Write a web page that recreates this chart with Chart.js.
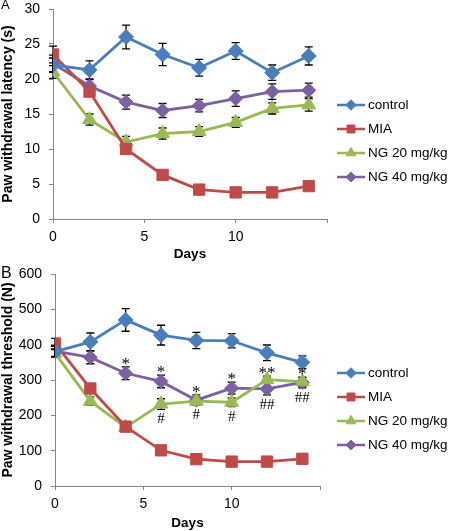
<!DOCTYPE html>
<html>
<head>
<meta charset="utf-8">
<script src="https://cdn.jsdelivr.net/npm/chart.js@4.4.1/dist/chart.umd.min.js"></script>
<style>
  body { margin: 0; background: #fff; width: 450px; height: 531px; position: relative; overflow: hidden; font-family: "Liberation Sans", Arial, sans-serif; }
  canvas { position: absolute; left: 0; }
  .letter { position: absolute; left: 1px; color: #000; }
</style>
</head>
<body>
<canvas id="chartA" width="450" height="262" style="top:0"></canvas>
<canvas id="chartB" width="450" height="269" style="top:262px"></canvas>
<div class="letter" style="top:-3px;font-size:13px">A</div>
<div class="letter" style="top:264px;font-size:16px">B</div>
<script>
// days of measurement
const days = [0, 2, 4, 6, 8, 10, 12, 14];
const seriesNames = ['control', 'MIA', 'NG 20 mg/kg', 'NG 40 mg/kg'];
const xTickLabels = ['0', '5', '10', ''];

// panel A: paw withdrawal latency (s)
const latControl = [22.0, 21.3, 26.0, 23.5, 21.6, 24.0, 20.9, 23.3];
const latMIA     = [23.5, 18.2, 10.0, 6.3, 4.2, 3.8, 3.8, 4.7];
const latNG20    = [21.0, 14.2, 11.0, 12.2, 12.5, 13.8, 15.8, 16.3];
const latNG40    = [22.2, 19.0, 16.7, 15.5, 16.2, 17.2, 18.2, 18.4];
const latErrControl = [1.0, 1.3, 1.7, 1.6, 1.2, 1.2, 1.1, 1.3];
const latErrMIA     = [1.2, 0.6, 0.5, 0.3, 0.3, 0.3, 0.3, 0.3];
const latErrNG20    = [0.9, 0.8, 0.8, 0.8, 0.7, 0.7, 0.8, 0.9];
const latErrNG40    = [1.2, 0.9, 1.0, 1.0, 0.9, 1.1, 1.1, 1.0];

// panel B: paw withdrawal threshold (N)
const thrControl = [380, 408, 470, 427, 412, 411, 377, 350];
const thrMIA     = [403, 276, 168, 101, 76, 69, 69, 77];
const thrNG20    = [376, 240, 166, 232, 240, 237, 301, 295];
const thrNG40    = [382, 364, 319, 296, 243, 277, 275, 293];
const thrErrControl = [15, 25, 32, 28, 23, 20, 22, 18];
const thrErrMIA     = [15, 10, 8, 5, 5, 5, 5, 5];
const thrErrNG20    = [10, 12, 10, 15, 12, 12, 10, 12];
const thrErrNG40    = [15, 18, 18, 18, 15, 17, 17, 15];

// significance marks in panel B
const starLabels = ['', '', '*', '*', '*', '*', '**', '*'];
const hashLabels = ['', '', '', '#', '#', '#', '##', '##'];

const colors = ['#4a7ebb', '#be4b48', '#98b954', '#7d60a0'];
const shapes = ['rectRot', 'rect', 'triangle', 'rectRot'];
const radii = [7.5, 8, 8, 7];
const FONT = '"Liberation Sans", Arial, sans-serif';
const SERIF = '"Liberation Serif", "Times New Roman", serif';

Chart.defaults.font.family = FONT;
Chart.defaults.color = '#000';

function makeDatasets(values, errors) {
  return values.map((v, i) => ({
    label: seriesNames[i],
    data: days.map((d, j) => ({ x: d, y: v[j] })),
    errors: errors[i],
    borderColor: colors[i],
    backgroundColor: colors[i],
    borderWidth: 2.8,
    pointStyle: shapes[i],
    pointRadius: radii[i],
    pointHoverRadius: radii[i],
    pointBorderWidth: 1,
    tension: 0
  }));
}

function drawMarker(ctx, style, x, y, r) {
  ctx.beginPath();
  if (style === 'rectRot') {
    ctx.moveTo(x, y - r); ctx.lineTo(x + r, y); ctx.lineTo(x, y + r); ctx.lineTo(x - r, y);
  } else if (style === 'rect') {
    const s = r * Math.SQRT1_2;
    ctx.rect(x - s, y - s, 2 * s, 2 * s);
  } else {
    const w = r * Math.sqrt(3) / 2;
    ctx.moveTo(x, y - r); ctx.lineTo(x + w, y + r / 2); ctx.lineTo(x - w, y + r / 2);
  }
  ctx.closePath();
  ctx.fill();
  ctx.stroke();
}

const errorBars = {
  id: 'errorBars',
  beforeDatasetsDraw(chart) {
    const { ctx, scales: { x, y } } = chart;
    ctx.save();
    ctx.strokeStyle = '#000';
    ctx.lineWidth = 1.3;
    chart.data.datasets.forEach(ds => {
      ds.data.forEach((p, j) => {
        const e = ds.errors[j];
        const px = x.getPixelForValue(p.x);
        const top = y.getPixelForValue(p.y + e);
        const bot = y.getPixelForValue(p.y - e);
        ctx.beginPath();
        ctx.moveTo(px, top); ctx.lineTo(px, bot);
        ctx.moveTo(px - 4, top); ctx.lineTo(px + 4, top);
        ctx.moveTo(px - 4, bot); ctx.lineTo(px + 4, bot);
        ctx.stroke();
      });
    });
    ctx.restore();
  }
};

const sideLegend = {
  id: 'sideLegend',
  afterDraw(chart, args, opts) {
    const ctx = chart.ctx;
    chart.data.datasets.forEach((ds, i) => {
      const y = opts.top + i * opts.gap;
      ctx.save();
      ctx.strokeStyle = ds.borderColor;
      ctx.lineWidth = 2.5;
      ctx.beginPath();
      ctx.moveTo(opts.left, y);
      ctx.lineTo(opts.left + 28, y);
      ctx.stroke();
      ctx.fillStyle = ds.backgroundColor;
      ctx.lineWidth = 1;
      drawMarker(ctx, ds.pointStyle, opts.left + 14, y, ds.pointRadius * 0.7);
      ctx.fillStyle = '#000';
      ctx.font = '13.5px ' + FONT;
      ctx.textBaseline = 'middle';
      ctx.fillText(ds.label, opts.left + 31, y);
      ctx.restore();
    });
  }
};

const sigMarks = {
  id: 'sigMarks',
  afterDatasetsDraw(chart, args, opts) {
    if (!opts.stars) return;
    const { ctx, scales: { x, y } } = chart;
    const ds = chart.data.datasets;
    ctx.save();
    ctx.fillStyle = '#000';
    ctx.textAlign = 'center';
    ctx.textBaseline = 'alphabetic';
    days.forEach((d, j) => {
      const px = x.getPixelForValue(d);
      const top = Math.max(...[2, 3].map(k => ds[k].data[j].y + ds[k].errors[j]));
      const bot = Math.min(...[2, 3].map(k => ds[k].data[j].y - ds[k].errors[j]));
      ctx.font = '17px ' + SERIF;
      if (opts.stars[j]) ctx.fillText(opts.stars[j], px, y.getPixelForValue(top) + 2);
      ctx.font = '15px ' + SERIF;
      if (opts.hashes[j]) ctx.fillText(opts.hashes[j], px, y.getPixelForValue(bot) + 14);
    });
    ctx.restore();
  }
};

function makeChart(id, datasets, yMax, yStep, yTitle, cfg) {
  return new Chart(document.getElementById(id), {
    type: 'line',
    data: { datasets },
    plugins: [errorBars, sideLegend, sigMarks],
    options: {
      responsive: false,
      animation: false,
      layout: { padding: { left: 0, right: cfg.right, top: cfg.top, bottom: 0 } },
      plugins: {
        legend: { display: false },
        tooltip: { enabled: false },
        sideLegend: cfg.legend,
        sigMarks: cfg.marks || {}
      },
      scales: {
        x: {
          type: 'linear',
          min: 0, max: 15,
          afterFit: s => { s.height = cfg.xHeight; s.paddingLeft = 0; s.paddingRight = 0; },
          ticks: { stepSize: 5, padding: 6, font: { size: 14 }, color: '#000',
                   callback: (v, i) => xTickLabels[i] },
          grid: { drawOnChartArea: false, tickLength: 4, color: '#868686' },
          border: { color: '#868686' },
          title: { display: true, text: 'Days', font: { size: 13.5, weight: 'bold' }, padding: 0 }
        },
        y: {
          min: 0, max: yMax,
          afterFit: s => { s.width = cfg.yWidth; s.paddingTop = 0; s.paddingBottom = 0; },
          ticks: { stepSize: yStep, padding: 9, font: { size: 14 }, color: '#000' },
          grid: { drawOnChartArea: false, tickLength: 4, color: '#868686' },
          border: { color: '#868686' },
          title: { display: true, text: yTitle, font: { size: 14, weight: 'bold' }, padding: 0 }
        }
      }
    }
  });
}

makeChart('chartA',
  makeDatasets([latControl, latMIA, latNG20, latNG40], [latErrControl, latErrMIA, latErrNG20, latErrNG40]),
  30, 5, 'Paw withdrawal latency (s)',
  { right: 123, top: 6, xHeight: 43, yWidth: 53, legend: { left: 337, top: 105, gap: 24 } });

makeChart('chartB',
  makeDatasets([thrControl, thrMIA, thrNG20, thrNG40], [thrErrControl, thrErrMIA, thrErrNG20, thrErrNG40]),
  600, 100, 'Paw withdrawal threshold (N)',
  { right: 130, top: 12, xHeight: 45, yWidth: 55, legend: { left: 337, top: 111, gap: 24 },
    marks: { stars: starLabels, hashes: hashLabels } });
</script>
</body>
</html>
